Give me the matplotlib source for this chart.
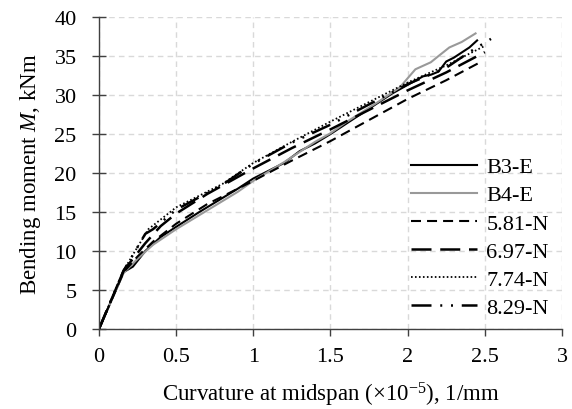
import numpy as np
import matplotlib
matplotlib.use("Agg")
from matplotlib import pyplot as plt

plt.rcParams['font.family'] = ['Liberation Serif', 'DejaVu Serif']
plt.rcParams['mathtext.fontset'] = 'custom'
plt.rcParams['mathtext.rm'] = 'Liberation Serif'
plt.rcParams['mathtext.it'] = 'Liberation Serif:italic'

#%% data (curvature x1e-5 1/mm, moment kNm)
b3_x = [0, 0.16, 0.22, 0.3, 0.4, 0.5, 0.65, 0.8, 0.9, 1.0, 1.1, 1.2, 1.3, 1.4,
        1.5, 1.6, 1.7, 1.8, 1.9, 2.0, 2.1, 2.15, 2.2, 2.25, 2.3, 2.4, 2.45]
b3_y = [0, 7.3, 8.0, 10.0, 11.8, 13.1, 15.0, 16.8, 18.0, 19.3, 20.3, 21.3, 22.8, 23.8,
        25.0, 26.3, 27.6, 28.9, 30.2, 31.3, 32.4, 32.6, 33.0, 34.3, 34.8, 36.1, 37.0]

b4_x = [0, 0.16, 0.25, 0.35, 0.5, 0.7, 0.9, 1.0, 1.2, 1.4, 1.5, 1.6, 1.8,
        1.95, 2.05, 2.15, 2.2, 2.27, 2.35, 2.44]
b4_y = [0, 7.2, 9.0, 10.8, 12.8, 15.2, 17.6, 19.0, 21.4, 24.0, 25.1, 26.5, 29.0,
        31.0, 33.3, 34.2, 35.0, 36.1, 36.8, 37.9]

n581_x = [0, 0.16, 0.25, 0.35, 0.5, 0.7, 1.0, 1.25, 1.5, 1.75, 2.0, 2.25, 2.46]
n581_y = [0, 7.3, 9.3, 11.2, 13.5, 16.0, 19.0, 21.6, 24.1, 26.8, 29.5, 31.9, 34.1]

n697_x = [0, 0.16, 0.22, 0.3, 0.4, 0.5, 0.7, 1.0, 1.25, 1.5, 1.75, 2.0, 2.25, 2.5]
n697_y = [0, 7.5, 9.0, 11.0, 13.2, 14.8, 17.3, 20.6, 23.2, 25.6, 28.1, 30.6, 32.9, 35.5]

n774_x = [0, 0.16, 0.21, 0.32, 0.5, 0.8, 1.0, 1.25, 1.5, 1.75, 2.0, 2.25, 2.5]
n774_y = [0, 7.5, 9.2, 12.8, 15.6, 18.6, 21.3, 24.0, 26.6, 29.1, 31.6, 33.8, 36.3]

n829_x = [0, 0.16, 0.22, 0.3, 0.35, 0.5, 0.8, 1.0, 1.25, 1.5, 1.75, 2.0, 2.25, 2.4, 2.54]
n829_y = [0, 7.5, 9.5, 12.2, 12.8, 15.3, 18.5, 21.2, 23.9, 26.2, 28.8, 31.4, 33.5, 35.5, 37.2]

#%% plot
fig, ax = plt.subplots(figsize=(5.72, 4.10), dpi=100)
fig.subplots_adjust(left=0.173, right=0.9825, bottom=0.195, top=0.956)

ax.plot(b3_x, b3_y, color='black', lw=1.5, label='B3-E')
ax.plot(b4_x, b4_y, color='#999999', lw=1.5, label='B4-E')
ax.plot(n581_x, n581_y, color='black', lw=1.5, dashes=(4.8, 2.9), label='5.81-N')
ax.plot(n697_x, n697_y, color='black', lw=1.8, dashes=(8, 3.5), label='6.97-N')
ax.plot(n774_x, n774_y, color='black', lw=1.3, dashes=(0.9, 1.3), label='7.74-N')
ax.plot(n829_x, n829_y, color='black', lw=1.8, dashes=(8, 3.5, 0.8, 3.5, 0.8, 3.5),
        label='8.29-N')

ax.set_xlim(0, 3)
ax.set_ylim(0, 40)
ax.set_xticks([0, 0.5, 1, 1.5, 2, 2.5, 3])
ax.set_xticklabels(['0', '0.5', '1', '1.5', '2', '2.5', '3'])
ax.set_yticks(range(0, 41, 5))
ax.grid(color='#d9d9d9', linestyle=(0, (4, 3)), lw=1.0)
ax.set_axisbelow(True)
for s in ['top', 'right']:
    ax.spines[s].set_visible(False)
for s in ['left', 'bottom']:
    ax.spines[s].set_color('#404040')
    ax.spines[s].set_linewidth(1.0)
ax.tick_params(axis='y', direction='inout', length=10, width=1.0, color='#404040',
               labelsize=16, pad=11)
ax.tick_params(axis='x', direction='out', length=5, width=1.0, color='#404040',
               labelsize=16, pad=8)

ax.set_xlabel('Curvature at midspan (×10$^{-5}$), 1/mm', fontsize=16.5, labelpad=10)
ax.set_ylabel('Bending moment $M$, kNm', fontsize=16.5, labelpad=8)

ax.legend(loc='upper right', bbox_to_anchor=(1.0, 0.595), frameon=False, fontsize=16,
          handlelength=3.0, handletextpad=0.4, labelspacing=0.34, borderaxespad=0.2)

plt.savefig('out.png', dpi=100)
